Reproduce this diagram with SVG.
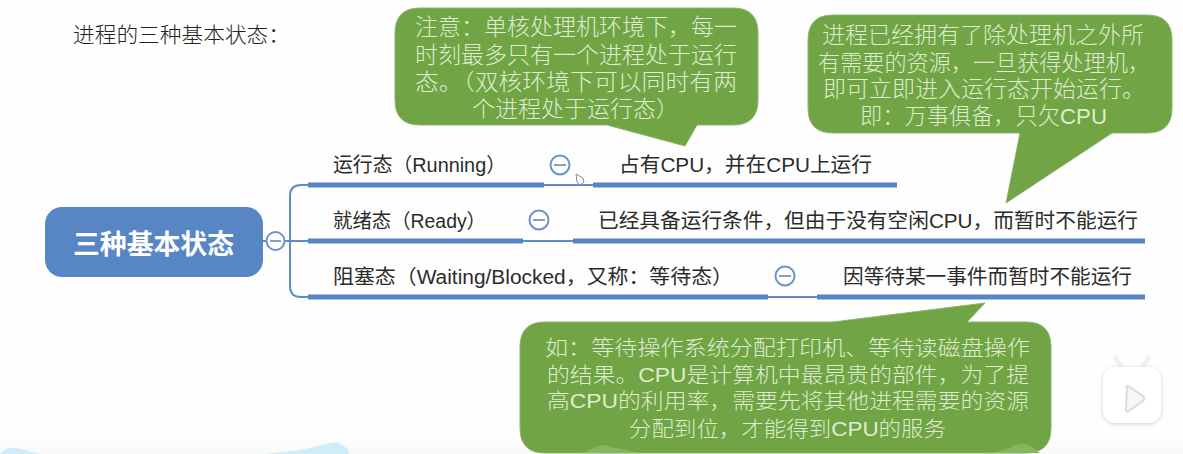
<svg xmlns="http://www.w3.org/2000/svg" width="1183" height="454" viewBox="0 0 1183 454">
<defs>
<linearGradient id="fade" x1="0" y1="0" x2="0" y2="1"><stop offset="0" stop-color="#ffffff"/><stop offset="1" stop-color="#f9f9f9"/></linearGradient>
<filter id="soft" x="-20%" y="-20%" width="140%" height="140%"><feDropShadow dx="0" dy="1" stdDeviation="2" flood-color="#000" flood-opacity="0.18"/></filter>
</defs>
<style>
text{font-family:"Liberation Sans","Noto Sans CJK SC",sans-serif;}
.lbl{font-size:20px;fill:#2b2b2b;}
.note{font-size:22.500px;fill:#dfeccf;font-weight:300;}
.call{fill:#70a444;stroke:#8cb56a;stroke-width:1;}
.thin{fill:none;stroke:#5f8cc9;stroke-width:2;}
.thick{fill:none;stroke:#5886c5;stroke-width:5;}
.tog{fill:#fff;stroke:#6c93c9;stroke-width:2;}
.minus{stroke:#8a9fbd;stroke-width:2;}
</style>
<rect width="1183" height="454" fill="#fefefe"/>
<rect y="430" width="1183" height="24" fill="url(#fade)"/>
<g id="background-marks">
<path d="M0 454 L6 449 Q10 447 22 449 L28 451 L40 454Z M262 454 Q290 452 310 448 Q320 445 330 443 Q338 441 342 445 L348 449 L349 454Z" fill="#d0ecf8"/>
</g>
<text id="heading" x="73" y="42" style="font-size:21px;font-weight:300;fill:#222" textLength="217" lengthAdjust="spacingAndGlyphs">进程的三种基本状态&#xFF1A;</text>
<g id="connectors">
<path class="thin" d="M308 185 H301 Q290 185 290 196 V286 Q290 297 301 297 H308"/>
<path class="thin" d="M263 241 H308"/>
<path class="thin" d="M544 185 H593"/>
<path class="thin" d="M523 241 H573"/>
<path class="thin" d="M768 297 H817"/>
<path class="thick" d="M308 185 H544"/>
<path class="thick" d="M593 185 H897"/>
<path class="thick" d="M308 241 H523"/>
<path class="thick" d="M573 241 H1145"/>
<path class="thick" d="M308 297 H768"/>
<path class="thick" d="M817 297 H1145"/>
</g>
<g id="node-root">
<rect x="45" y="207" width="218" height="70" rx="17" fill="#5886c5"/>
<text x="73" y="254" textLength="161" lengthAdjust="spacingAndGlyphs" style="font-size:27px;font-weight:700;fill:#fff">三种基本状态</text>
<circle class="tog" cx="275.500" cy="241" r="9"/><path class="minus" d="M270 241 H281"/>
</g>
<g id="node-running">
<text class="lbl" x="333" y="172" textLength="173" lengthAdjust="spacingAndGlyphs">运行态&#xFF08;Running&#xFF09;</text>
<circle class="tog" cx="560" cy="165" r="9.500"/><path class="minus" d="M554 165 H566"/>
<text class="lbl" x="619" y="172" textLength="253" lengthAdjust="spacingAndGlyphs">占有CPU&#xFF0C;并在CPU上运行</text>
</g>
<g id="node-ready">
<text class="lbl" x="333" y="228" textLength="153" lengthAdjust="spacingAndGlyphs">就绪态&#xFF08;Ready&#xFF09;</text>
<circle class="tog" cx="539" cy="220" r="9.500"/><path class="minus" d="M533 220 H545"/>
<text class="lbl" x="598" y="228" textLength="540" lengthAdjust="spacingAndGlyphs">已经具备运行条件&#xFF0C;但由于没有空闲CPU&#xFF0C;而暂时不能运行</text>
</g>
<g id="node-blocked">
<text class="lbl" x="333" y="284" textLength="400" lengthAdjust="spacingAndGlyphs">阻塞态&#xFF08;Waiting/Blocked&#xFF0C;又称&#xFF1A;等待态&#xFF09;</text>
<circle class="tog" cx="785" cy="276" r="9.500"/><path class="minus" d="M779 276 H791"/>
<text class="lbl" x="843" y="284" textLength="289" lengthAdjust="spacingAndGlyphs">因等待某一事件而暂时不能运行</text>
</g>
<g id="note-running">
<path class="call" d="M420 8 H733 Q758 8 758 33 V100 Q758 125 733 125 H697 L685 146 L607 125 H420 Q395 125 395 100 V33 Q395 8 420 8Z"/>
<text class="note" x="415" y="35" textLength="322" lengthAdjust="spacingAndGlyphs">注意&#xFF1A;单核处理机环境下&#xFF0C;每一</text>
<text class="note" x="415" y="63" textLength="322" lengthAdjust="spacingAndGlyphs">时刻最多只有一个进程处于运行</text>
<text class="note" x="415" y="90" textLength="322" lengthAdjust="spacingAndGlyphs">态。&#xFF08;双核环境下可以同时有两</text>
<text class="note" x="472" y="117" textLength="207" lengthAdjust="spacingAndGlyphs">个进程处于运行态&#xFF09;</text>
</g>
<g id="note-ready">
<path class="call" d="M833 15 H1147 Q1172 15 1172 40 V108 Q1172 133 1147 133 H1112 L1006 203 L1020 133 H833 Q808 133 808 108 V40 Q808 15 833 15Z"/>
<text class="note" x="822" y="43" textLength="322" lengthAdjust="spacingAndGlyphs">进程已经拥有了除处理机之外所</text>
<text class="note" x="818" y="71" textLength="332" lengthAdjust="spacingAndGlyphs">有需要的资源&#xFF0C;一旦获得处理机&#xFF0C;</text>
<text class="note" x="823" y="97" textLength="322" lengthAdjust="spacingAndGlyphs">即可立即进入运行态开始运行。</text>
<text class="note" x="860" y="124" textLength="247" lengthAdjust="spacingAndGlyphs">即&#xFF1A;万事俱备&#xFF0C;只欠CPU</text>
</g>
<g id="note-blocked">
<path class="call" d="M545 322 H833 L985 303 L967 322 H1026 Q1051 322 1051 347 V428 Q1051 453 1026 453 H545 Q520 453 520 428 V347 Q520 322 545 322Z"/>
<path d="M583 453 L596 447 Q603 443 610 447 L622 449 L640 453Z M990 453 Q1005 451 1015 445 Q1026 441 1032 447 L1040 453Z" fill="#86b562"/>
<text class="note" x="545" y="355" textLength="485" lengthAdjust="spacingAndGlyphs" style="font-size:21px">如&#xFF1A;等待操作系统分配打印机、等待读磁盘操作</text>
<text class="note" x="547" y="382" textLength="482" lengthAdjust="spacingAndGlyphs" style="font-size:21px">的结果。CPU是计算机中最昂贵的部件&#xFF0C;为了提</text>
<text class="note" x="547" y="408" textLength="482" lengthAdjust="spacingAndGlyphs" style="font-size:21px">高CPU的利用率&#xFF0C;需要先将其他进程需要的资源</text>
<text class="note" x="629" y="436" textLength="317" lengthAdjust="spacingAndGlyphs" style="font-size:21px">分配到位&#xFF0C;才能得到CPU的服务</text>
</g>
<g id="cursor">
<path d="M576 174 L577 182 L580 185 L584 182 L583 178Z" fill="#fff" stroke="#8a8a8a" stroke-width="1"/>
</g>
<g id="watermark">
<path d="M1122 369 L1116 358 M1142 369 L1148 358" stroke="#f0f0f0" stroke-width="5" stroke-linecap="round"/>
<rect x="1103" y="367" width="58" height="56" rx="13" fill="#fff" filter="url(#soft)"/>
<path d="M1127 389 Q1125 385 1128 386 L1143 396 Q1146 398 1143 401 L1129 411 Q1126 413 1126 409Z" fill="#f6f6f6" stroke="#dcdcdc" stroke-width="2"/>
</g>
</svg>
